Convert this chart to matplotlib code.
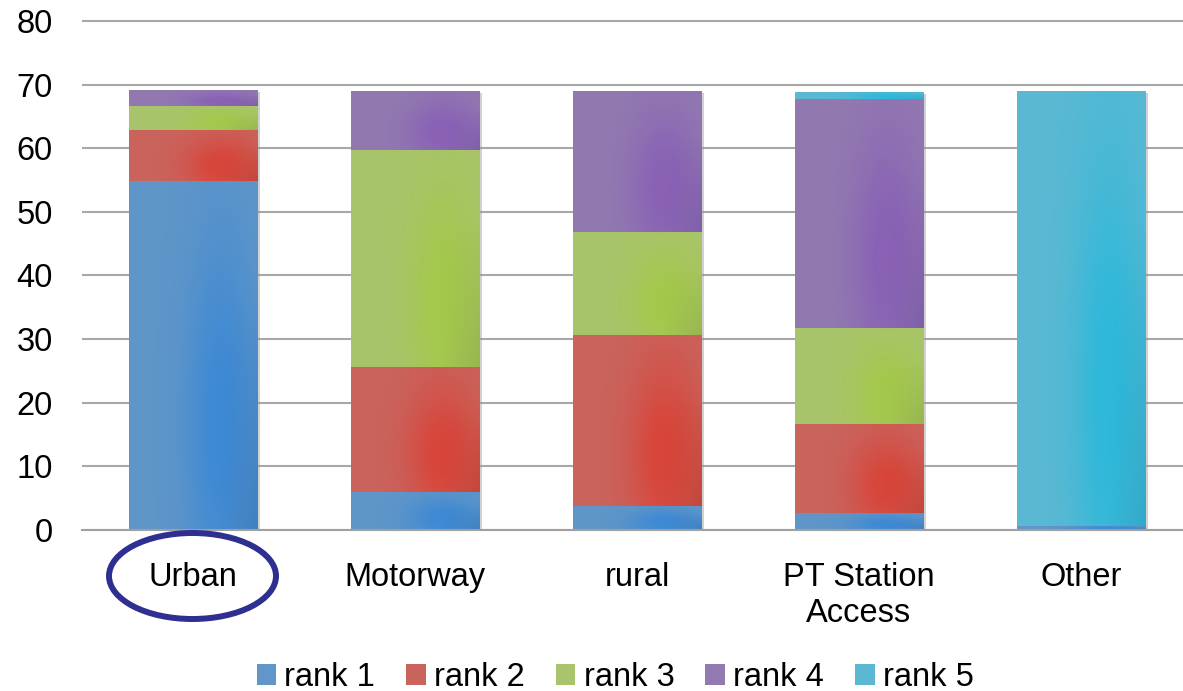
import numpy as np
import matplotlib
matplotlib.use("Agg")
import matplotlib.pyplot as plt
from matplotlib.patches import Ellipse
from matplotlib.colors import to_rgb
import matplotlib.transforms as mtransforms

plt.rcParams['font.family'] = ['Liberation Sans', 'DejaVu Sans']

categories = ['Urban', 'Motorway', 'rural', 'PT Station\nAccess', 'Other']
series_names = ['rank 1', 'rank 2', 'rank 3', 'rank 4', 'rank 5']
rank1 = [54.9, 6.0, 3.8, 2.7, 0.7]
rank2 = [7.9, 19.6, 26.8, 14.0, 0.0]
rank3 = [3.9, 34.1, 16.2, 15.0, 0.0]
rank4 = [2.4, 9.3, 22.2, 36.0, 0.0]
rank5 = [0.0, 0.0, 0.0, 1.2, 68.3]
yticks = [0, 10, 20, 30, 40, 50, 60, 70, 80]

base_colors = ['#6096c8', '#c9645d', '#a9c46c', '#927ab0', '#5bb8d3']
sat_colors = ['#3f8ad4', '#d8463b', '#a4c84c', '#8a62b6', '#2fb9da']
dark_colors = ['#3a7cbd', '#c34235', '#94b449', '#7b5ba6', '#2aa6c6']

W, H = 1183, 691
fig = plt.figure(figsize=(W / 100, H / 100), dpi=100)
ax = fig.add_axes([82 / W, 161 / H, 1110 / W, 512.2 / H])

x = np.arange(len(categories))
width = 0.58
series = [rank1, rank2, rank3, rank4, rank5]
totals = np.sum(series, axis=0)

# soft shadow behind each stack
shadow_tr = ax.transData + mtransforms.ScaledTranslation(3 / 100, -2 / 100, fig.dpi_scale_trans)
ax.bar(x, totals, width, color='#9a9a9a', alpha=0.45, transform=shadow_tr, zorder=1.5)

bottom = np.zeros(len(categories))
containers = []
for i, vals in enumerate(series):
    bc = ax.bar(x, vals, width, bottom=bottom, color=base_colors[i], label=series_names[i],
                zorder=2, linewidth=0)
    containers.append(bc)
    bottom = bottom + np.array(vals)

# gradient fill clipped to each segment
nx, ny = 60, 60
gx, gy = np.meshgrid(np.linspace(0, 1, nx), np.linspace(0, 1, ny))
for i, bc in enumerate(containers):
    b, s, d = (np.array(to_rgb(c)) for c in (base_colors[i], sat_colors[i], dark_colors[i]))
    for rect in bc.patches:
        h = rect.get_height()
        if h <= 0:
            continue
        a = np.exp(-(((gx - 0.72) / 0.28) ** 2 + ((gy - 0.3) / 0.55) ** 2))
        a = np.clip(a * 1.1, 0, 1)
        dk = np.clip((gx - 0.7) / 0.3, 0, 1) * np.clip((0.7 - gy) / 0.7, 0, 1)
        img = b[None, None, :] * (1 - a[..., None]) + s[None, None, :] * a[..., None]
        img = img * (1 - 0.8 * dk[..., None]) + d[None, None, :] * 0.8 * dk[..., None]
        x0, y0 = rect.get_x(), rect.get_y()
        im = ax.imshow(img, extent=[x0, x0 + rect.get_width(), y0, y0 + h], origin='lower',
                       aspect='auto', zorder=2.1, interpolation='bilinear')
        im.set_clip_path(rect)

ax.set_xlim(-0.5, 4.5)
ax.set_ylim(0, 80.5)
ax.set_yticks(yticks)
ax.set_xticks(x)
ax.set_xticklabels(categories, fontsize=23.5, linespacing=1.2)
ax.tick_params(axis='y', length=0, pad=21, labelsize=23.5)
ax.tick_params(axis='x', length=0, pad=23)
for sp in ['top', 'right', 'left']:
    ax.spines[sp].set_visible(False)
ax.spines['bottom'].set_color('#a0a0a0')
ax.spines['bottom'].set_linewidth(1.5)
ax.yaxis.grid(True, color='#a8a8a8', linewidth=1.5)
ax.set_axisbelow(True)

leg = fig.legend(handles=[c for c in containers], labels=series_names, loc='center',
                 bbox_to_anchor=(0.52, 0.02), ncol=5, frameon=False, fontsize=23.5,
                 handlelength=0.6, handleheight=0.6, handletextpad=0.25,
                 columnspacing=0.95, borderaxespad=0)

ell = Ellipse((192.5 / W, 1 - 576 / H), 167 / W, 86 / H, transform=fig.transFigure,
              fill=False, edgecolor='#2e2f90', linewidth=4.3)
fig.add_artist(ell)

fig.savefig('out.png', dpi=100)
